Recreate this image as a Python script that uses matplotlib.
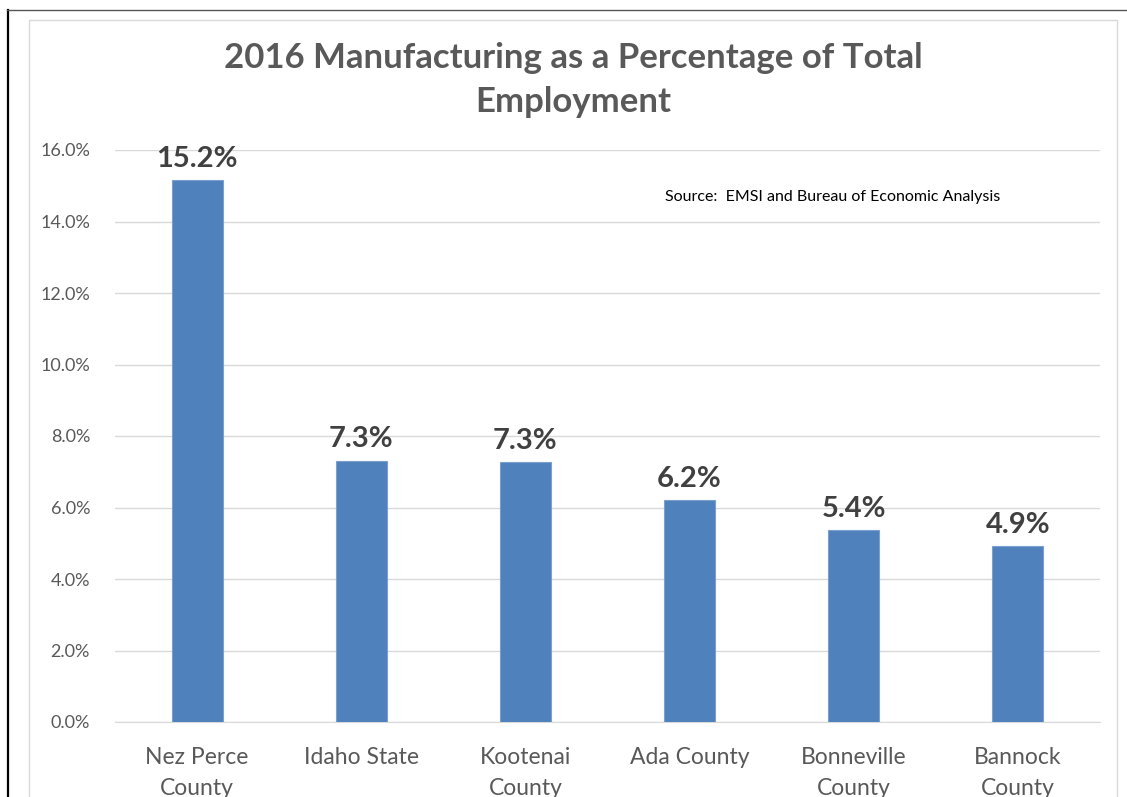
import matplotlib
matplotlib.use("Agg")
import matplotlib.pyplot as plt
from matplotlib.patches import Rectangle
from matplotlib.lines import Line2D
from matplotlib.ticker import FuncFormatter

# data (percent of total employment)
areas = ["Nez Perce\nCounty", "Idaho State", "Kootenai\nCounty", "Ada County",
         "Bonneville\nCounty", "Bannock\nCounty"]
shares = [15.16, 7.31, 7.27, 6.21, 5.37, 4.92]
labels = ["15.2%", "7.3%", "7.3%", "6.2%", "5.4%", "4.9%"]
yticks = [0, 2, 4, 6, 8, 10, 12, 14, 16]

C_BAR = "#4F81BD"; C_TXT = "#595959"; C_LBL = "#404040"; C_GRID = "#D9D9D9"
plt.rcParams["font.family"] = ["Lato", "DejaVu Sans"]

W, H = 1127, 797
fig = plt.figure(figsize=(W / 100, H / 100), dpi=100)
fig.patch.set_facecolor("white")

# outer frame lines and chart border (pixel -> figure fraction)
fx = lambda x: x / W
fy = lambda y: 1 - y / H
fig.add_artist(Line2D([fx(8), fx(8)], [fy(10), 0], color="black", lw=1.6))
fig.add_artist(Line2D([fx(7), 1], [fy(10), fy(10)], color="#555555", lw=1.0))
fig.add_artist(Rectangle((fx(29), -0.05), fx(1117) - fx(29), fy(20) + 0.05,
                         fill=False, ec="#D9D9D9", lw=1.0))

ax = fig.add_axes([fx(115), fy(722), fx(1100) - fx(115), fy(150) - fy(722)])
x = range(len(areas))
ax.bar(x, shares, width=0.31, color=C_BAR, ec="#7BA0CD", lw=0.8, zorder=3)
for i, (v, t) in enumerate(zip(shares, labels)):
    ax.annotate(t, (i, v), xytext=(0, 6), textcoords="offset points",
                ha="center", va="bottom", fontsize=21, fontweight="bold",
                color=C_LBL, zorder=4)

ax.set_xlim(-0.5, len(areas) - 0.5)
ax.set_ylim(0, 16)
ax.set_yticks(yticks)
ax.yaxis.set_major_formatter(FuncFormatter(lambda v, p: f"{v:.1f}%"))
ax.set_xticks(list(x))
ax.set_xticklabels(areas, fontsize=16.5, color=C_TXT, linespacing=1.6, va="top")
ax.tick_params(axis="y", labelsize=13, colors=C_TXT, length=0, pad=18)
ax.tick_params(axis="x", length=0, pad=18)
ax.grid(axis="y", color=C_GRID, lw=1.0, zorder=0)
for s in ["top", "right", "left"]:
    ax.spines[s].set_visible(False)
ax.spines["bottom"].set_color(C_GRID)

fig.text(fx(573), fy(80), "2016 Manufacturing as a Percentage of Total\nEmployment",
         ha="center", va="center", fontsize=25, fontweight="bold", color=C_TXT,
         linespacing=1.5)
fig.text(fx(665), fy(197), "Source:  EMSI and Bureau of Economic Analysis",
         ha="left", va="center", fontsize=11.5, color="black")

fig.savefig("out.png", dpi=100, facecolor="white")
